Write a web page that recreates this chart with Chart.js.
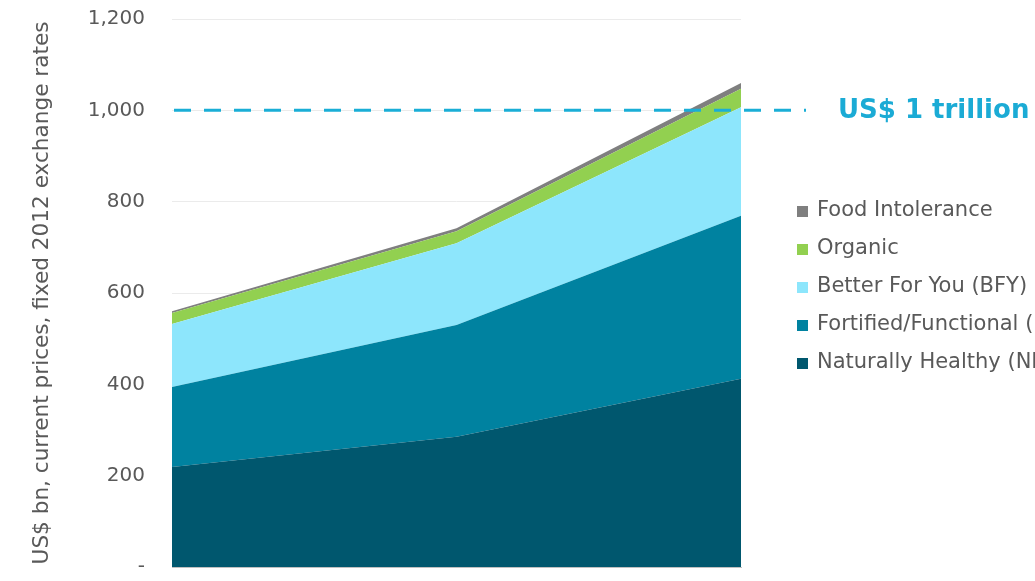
<!DOCTYPE html>
<html>
<head>
<meta charset="utf-8">
<script src="https://cdn.jsdelivr.net/npm/chart.js@4.4.1/dist/chart.umd.min.js"></script>
<style>
  html, body { margin: 0; padding: 0; background: #fff; }
  #chart { display: block; }
</style>
</head>
<body>
<canvas id="chart" width="1035" height="581"></canvas>
<script>
// categories are not labelled in the picture
const periods = ['2012', '2017', '2022'];
const naturallyHealthy = [219, 285, 412];
const fortifiedFunctional = [175, 245, 357];
const betterForYou = [138, 179, 238];
const organic = [24, 26, 40];
const foodIntolerance = [4, 7, 13];
const yTicks = [0, 200, 400, 600, 800, 1000, 1200];
const markerValue = 1000;
const markerLabel = 'US$ 1 trillion';

const textColor = '#595959';
const fontFamily = '"DejaVu Sans", "Liberation Sans", Arial, sans-serif';

// legend drawn top to bottom, like the reference
const legendItems = [
    { label: 'Food Intolerance', color: '#7F7F7F' },
    { label: 'Organic', color: '#92D050' },
    { label: 'Better For You (BFY)', color: '#8DE6FC' },
    { label: 'Fortified/Functional (FF)', color: '#0082A0' },
    { label: 'Naturally Healthy (NH)', color: '#00576E' }
];

const markerPlugin = {
    id: 'markerPlugin',
    afterDatasetsDraw(chart) {
        const ctx = chart.ctx;
        const y = chart.scales.y.getPixelForValue(markerValue);
        ctx.save();
        ctx.strokeStyle = '#1AAED6';
        ctx.lineWidth = 3;
        ctx.setLineDash([17, 13]);
        ctx.beginPath();
        ctx.moveTo(chart.chartArea.left + 2, y);
        ctx.lineTo(806, y);
        ctx.stroke();
        ctx.setLineDash([]);
        ctx.fillStyle = '#1BABD5';
        ctx.font = 'bold 26px ' + fontFamily;
        ctx.textBaseline = 'middle';
        ctx.fillText(markerLabel, 838, y + 1);
        ctx.restore();
    },
    afterDraw(chart) {
        const ctx = chart.ctx;
        ctx.save();
        ctx.font = '21px ' + fontFamily;
        ctx.textBaseline = 'middle';
        legendItems.forEach((item, i) => {
            const cy = 211 + i * 38;
            ctx.fillStyle = item.color;
            ctx.fillRect(797, cy - 5, 11, 11);
            ctx.fillStyle = textColor;
            ctx.fillText(item.label, 817, cy);
        });
        ctx.restore();
    }
};

const ctx = document.getElementById('chart').getContext('2d');
const chart = new Chart(ctx, {
    type: 'line',
    data: {
        labels: periods,
        datasets: [
            { label: 'Naturally Healthy (NH)', data: naturallyHealthy, backgroundColor: '#00576E', fill: 'origin' },
            { label: 'Fortified/Functional (FF)', data: fortifiedFunctional, backgroundColor: '#0082A0', fill: '-1' },
            { label: 'Better For You (BFY)', data: betterForYou, backgroundColor: '#8DE6FC', fill: '-1' },
            { label: 'Organic', data: organic, backgroundColor: '#92D050', fill: '-1' },
            { label: 'Food Intolerance', data: foodIntolerance, backgroundColor: '#7F7F7F', fill: '-1' }
        ].map(ds => Object.assign(ds, { borderWidth: 0, pointRadius: 0, tension: 0 }))
    },
    options: {
        responsive: false,
        animation: false,
        layout: {
            padding: { left: 0, right: 294, top: 19, bottom: 14 }
        },
        scales: {
            x: {
                offset: false,
                ticks: { display: false },
                grid: { display: false, drawTicks: false },
                border: { display: true, color: '#C0C0C0', width: 1 },
                afterFit: scale => {
                    scale.height = 0;
                    scale.paddingLeft = 0;
                    scale.paddingRight = 0;
                }
            },
            y: {
                stacked: true,
                min: 0,
                max: 1200,
                afterBuildTicks: scale => {
                    scale.ticks = yTicks.map(v => ({ value: v }));
                },
                afterFit: scale => {
                    scale.width = 172;
                    scale.paddingTop = 0;
                    scale.paddingBottom = 0;
                },
                ticks: {
                    padding: 27,
                    color: textColor,
                    font: { family: fontFamily, size: 20 },
                    callback: value => value === 0 ? '-' : value.toLocaleString('en-US')
                },
                grid: { color: '#EBEBEB', drawTicks: false },
                border: { display: false },
                title: {
                    display: true,
                    text: 'US$ bn, current prices, fixed 2012 exchange rates',
                    color: textColor,
                    font: { family: fontFamily, size: 21.6 },
                    padding: { top: 29, bottom: 0 }
                }
            }
        },
        plugins: {
            legend: { display: false },
            tooltip: { enabled: false }
        }
    },
    plugins: [markerPlugin]
});
</script>
</body>
</html>
